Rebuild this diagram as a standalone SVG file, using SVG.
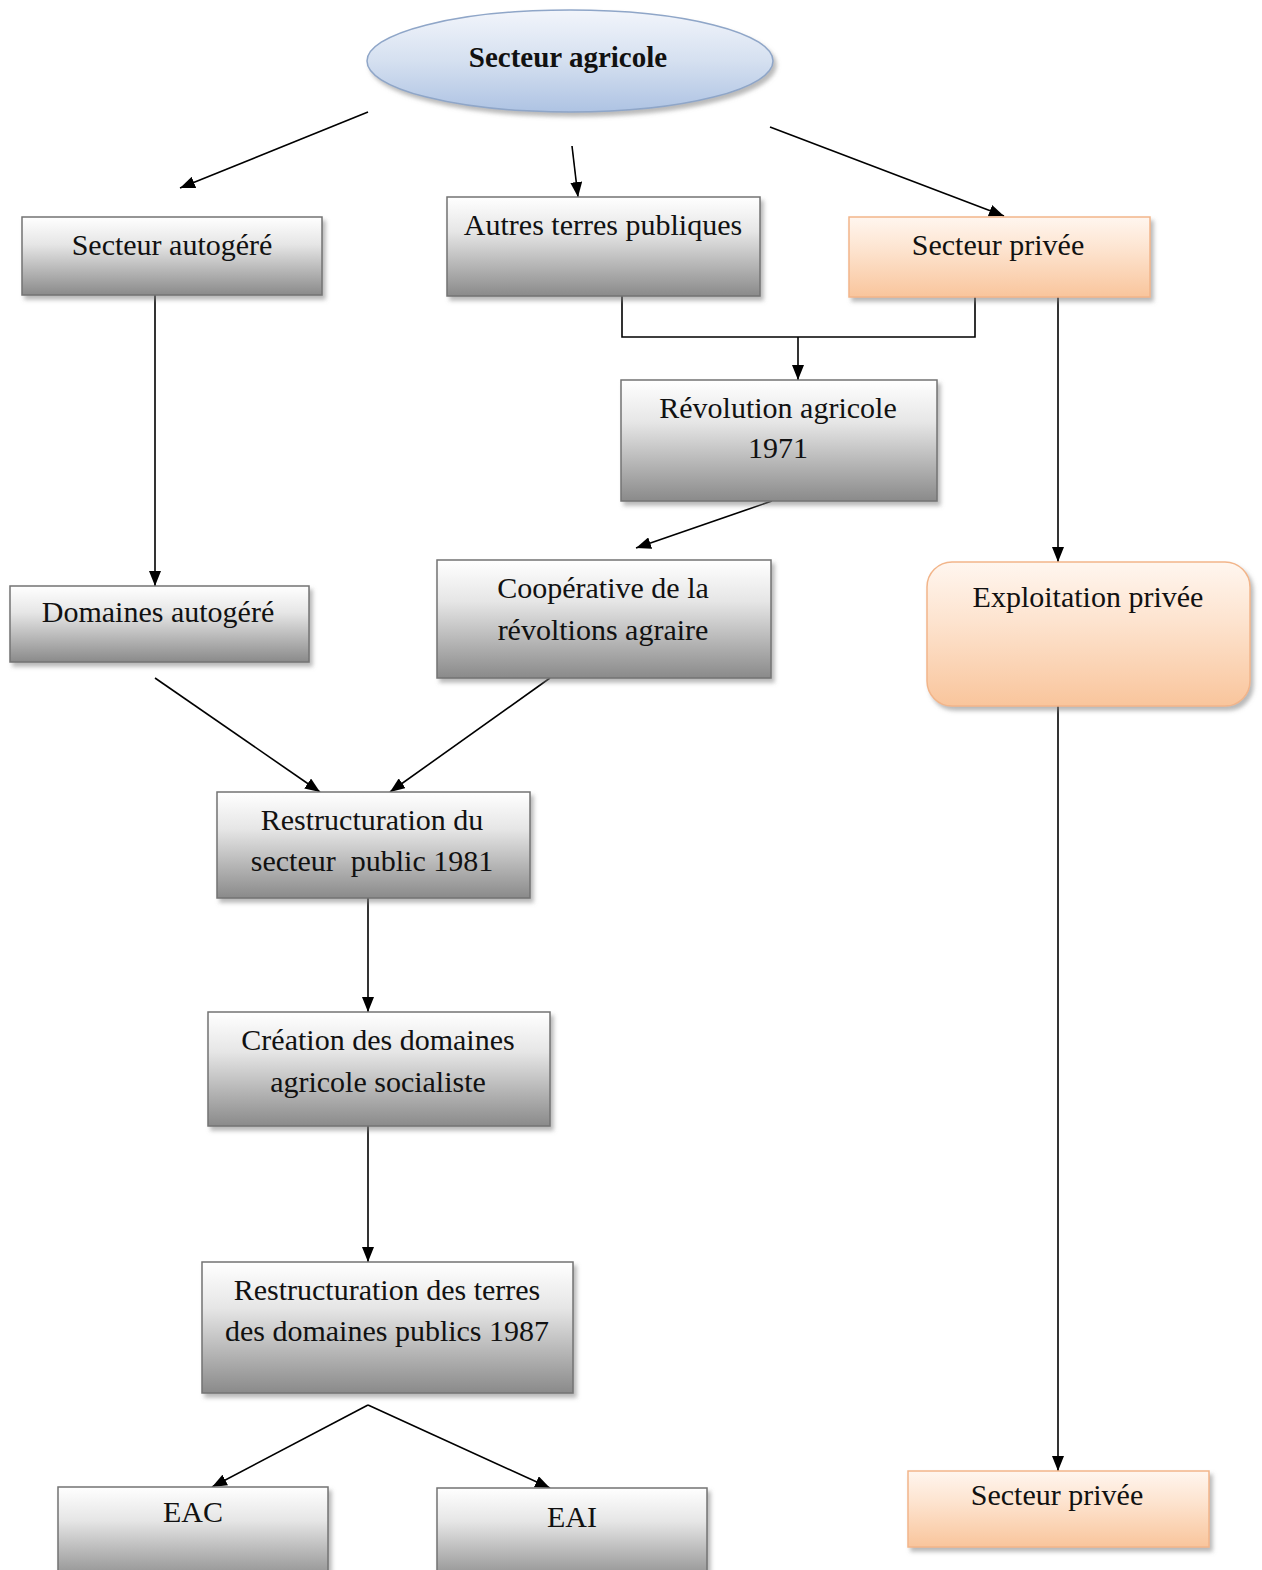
<svg xmlns="http://www.w3.org/2000/svg" width="1262" height="1570" viewBox="0 0 1262 1570">
<defs>
<linearGradient id="gGray" x1="0" y1="0" x2="0" y2="1">
<stop offset="0" stop-color="#ffffff"/>
<stop offset="0.35" stop-color="#e6e6e6"/>
<stop offset="1" stop-color="#8a8a8a"/>
</linearGradient>
<linearGradient id="gPeach" x1="0" y1="0" x2="0" y2="1">
<stop offset="0" stop-color="#fff6ef"/>
<stop offset="0.4" stop-color="#fde4d0"/>
<stop offset="1" stop-color="#f9c59c"/>
</linearGradient>
<linearGradient id="gBlue" x1="0" y1="0" x2="0" y2="1">
<stop offset="0" stop-color="#f2f5fb"/>
<stop offset="0.5" stop-color="#d5e0f0"/>
<stop offset="1" stop-color="#aec3e3"/>
</linearGradient>
<filter id="shadow" x="-10%" y="-10%" width="125%" height="135%">
<feDropShadow dx="3" dy="4" stdDeviation="2" flood-color="#808080" flood-opacity="0.55"/>
</filter>
<marker id="arrow" markerUnits="userSpaceOnUse" markerWidth="16" markerHeight="12" refX="15" refY="6" orient="auto">
<path d="M0,0 L15,6 L0,12 Z" fill="#000"/>
</marker>
</defs>
<style>
.box{fill:url(#gGray);stroke:#737373;stroke-width:1.5;filter:url(#shadow)}
.peach{fill:url(#gPeach);stroke:#f2b58a;stroke-width:1.5;filter:url(#shadow)}
.ell{fill:url(#gBlue);stroke:#8fa6c8;stroke-width:1.5;filter:url(#shadow)}
.t{font-family:"Liberation Serif","Times New Roman",serif;font-size:30px;fill:#111;text-anchor:middle}
.tb{font-family:"Liberation Serif","Times New Roman",serif;font-size:29px;font-weight:bold;fill:#111;text-anchor:middle}
.c{stroke:#000;stroke-width:1.6;fill:none}
.a{marker-end:url(#arrow)}
</style>
<rect width="1262" height="1570" fill="#ffffff"/>

<g id="connectors">
<line class="c a" x1="368" y1="112" x2="180" y2="188"/>
<line class="c a" x1="572" y1="146" x2="578" y2="197"/>
<line class="c a" x1="770" y1="127" x2="1004" y2="216"/>
<polyline class="c" points="622,296 622,337 975,337 975,297"/>
<line class="c a" x1="798" y1="337" x2="798" y2="380"/>
<line class="c a" x1="155" y1="295" x2="155" y2="586"/>
<line class="c a" x1="1058" y1="297" x2="1058" y2="562"/>
<line class="c a" x1="772" y1="501" x2="636" y2="548"/>
<line class="c a" x1="155" y1="678" x2="320" y2="792"/>
<line class="c a" x1="550" y1="678" x2="390" y2="792"/>
<line class="c a" x1="368" y1="898" x2="368" y2="1012"/>
<line class="c a" x1="368" y1="1126" x2="368" y2="1262"/>
<line class="c a" x1="368" y1="1405" x2="212" y2="1487"/>
<line class="c a" x1="368" y1="1405" x2="550" y2="1488"/>
<line class="c a" x1="1058" y1="706" x2="1058" y2="1471"/>
</g>

<g id="n-secteur-agricole">
<ellipse class="ell" cx="570" cy="61" rx="203" ry="51"/>
<text class="tb" x="568" y="67">Secteur agricole</text>
</g>
<g id="n-secteur-autogere">
<rect class="box" x="22" y="217" width="300" height="78"/>
<text class="t" x="172" y="255">Secteur autogéré</text>
</g>
<g id="n-autres-terres">
<rect class="box" x="447" y="197" width="313" height="99"/>
<text class="t" x="603" y="235">Autres terres publiques</text>
</g>
<g id="n-secteur-privee-1">
<rect class="peach" x="849" y="217" width="301" height="80"/>
<text class="t" x="998" y="255">Secteur privée</text>
</g>
<g id="n-revolution">
<rect class="box" x="621" y="380" width="316" height="121"/>
<text class="t" x="778" y="418">Révolution agricole</text>
<text class="t" x="778" y="458">1971</text>
</g>
<g id="n-cooperative">
<rect class="box" x="437" y="560" width="334" height="118"/>
<text class="t" x="603" y="598">Coopérative de la</text>
<text class="t" x="603" y="640">révoltions agraire</text>
</g>
<g id="n-domaines">
<rect class="box" x="10" y="586" width="299" height="76"/>
<text class="t" x="158" y="622">Domaines autogéré</text>
</g>
<g id="n-exploitation">
<rect class="peach" x="927" y="562" width="323" height="144" rx="25" ry="25"/>
<text class="t" x="1088" y="607">Exploitation privée</text>
</g>
<g id="n-restructuration-1981">
<rect class="box" x="217" y="792" width="313" height="106"/>
<text class="t" x="372" y="830">Restructuration du</text>
<text class="t" x="372" y="871" xml:space="preserve">secteur  public 1981</text>
</g>
<g id="n-creation">
<rect class="box" x="208" y="1012" width="342" height="114"/>
<text class="t" x="378" y="1050">Création des domaines</text>
<text class="t" x="378" y="1092">agricole socialiste</text>
</g>
<g id="n-restructuration-1987">
<rect class="box" x="202" y="1262" width="371" height="131"/>
<text class="t" x="387" y="1300">Restructuration des terres</text>
<text class="t" x="387" y="1341">des domaines publics 1987</text>
</g>
<g id="n-eac">
<rect class="box" x="58" y="1487" width="270" height="95"/>
<text class="t" x="193" y="1522">EAC</text>
</g>
<g id="n-eai">
<rect class="box" x="437" y="1488" width="270" height="95"/>
<text class="t" x="572" y="1527">EAI</text>
</g>
<g id="n-secteur-privee-2">
<rect class="peach" x="908" y="1471" width="301" height="76"/>
<text class="t" x="1057" y="1505">Secteur privée</text>
</g>
</svg>
